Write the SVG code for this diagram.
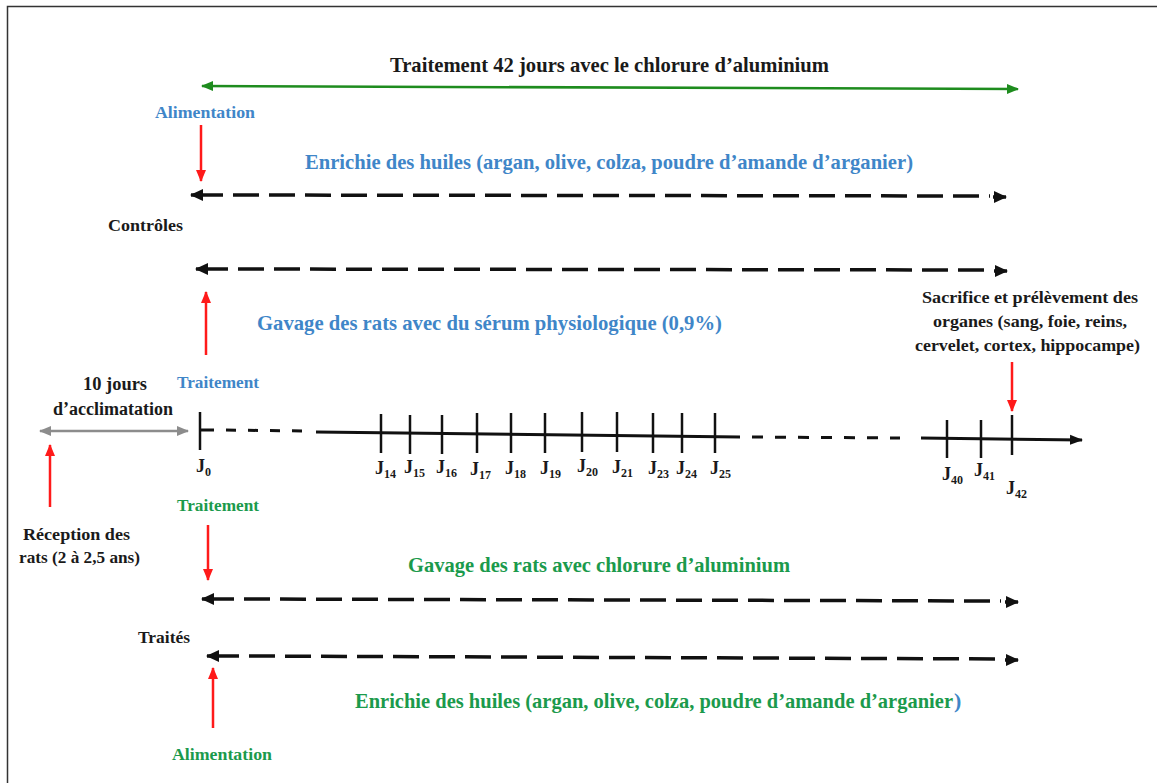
<svg xmlns="http://www.w3.org/2000/svg" width="1157" height="783" viewBox="0 0 1157 783">
<defs>
<style>
text{font-family:"Liberation Serif","Times New Roman",serif;font-weight:bold;}
.blk{fill:#1a1a1a;}
.blu{fill:#3f86c8;}
.grn{fill:#1b9a4c;}
.dash{stroke:#111;stroke-width:3.5;fill:none;stroke-dasharray:26 10;}
.solid{stroke:#111;stroke-width:3.5;fill:none;}
.red{stroke:#ff1a1a;stroke-width:2.5;fill:none;}
.tick{stroke:#111;stroke-width:2.5;}
.tl{stroke:#111;stroke-width:3;fill:none;}
.lbl{font-size:18px;}
.sub{font-size:12px;}
</style>
<marker id="ab" markerUnits="userSpaceOnUse" markerWidth="14" markerHeight="12" refX="12" refY="6" orient="auto-start-reverse"><path d="M0,0 L13,6 L0,12 Z" fill="#111"/></marker>
<marker id="ar" markerUnits="userSpaceOnUse" markerWidth="12" markerHeight="12" refX="11" refY="6" orient="auto"><path d="M0,1 L12,6 L0,11 Z" fill="#ff1a1a"/></marker>
<marker id="ag" markerUnits="userSpaceOnUse" markerWidth="12" markerHeight="12" refX="11" refY="6" orient="auto-start-reverse"><path d="M0,1 L12,6 L0,11 Z" fill="#1e8c1e"/></marker>
<marker id="agr" markerUnits="userSpaceOnUse" markerWidth="12" markerHeight="12" refX="11" refY="6" orient="auto-start-reverse"><path d="M0,1 L12,6 L0,11 Z" fill="#8c8c8c"/></marker>
<marker id="at" markerUnits="userSpaceOnUse" markerWidth="14" markerHeight="12" refX="12" refY="6" orient="auto"><path d="M0,1 L13,6 L0,11 Z" fill="#111"/></marker>
</defs>
<rect x="0" y="0" width="1157" height="783" fill="#fff"/>
<rect id="frame" x="7.5" y="6.5" width="1170" height="800" fill="none" stroke="#333" stroke-width="1.5"/>

<g id="connectors">
  <line x1="202" y1="86" x2="1018" y2="89" stroke="#1e8c1e" stroke-width="2.5" marker-start="url(#ag)" marker-end="url(#ag)"/>
  <line class="solid" x1="191" y1="195" x2="223" y2="195" marker-start="url(#ab)"/>
  <line class="dash" x1="233" y1="195" x2="990" y2="196"/>
  <line class="solid" x1="993" y1="197" x2="1006" y2="197" marker-end="url(#ab)"/>
  <line class="solid" x1="196" y1="269" x2="228" y2="269" marker-start="url(#ab)"/>
  <line class="dash" x1="238" y1="269" x2="990" y2="270"/>
  <line class="solid" x1="994" y1="271" x2="1007" y2="271" marker-end="url(#ab)"/>
  <line class="solid" x1="202" y1="599" x2="234" y2="599" marker-start="url(#ab)"/>
  <line class="dash" x1="244" y1="599" x2="1001" y2="601"/>
  <line class="solid" x1="1005" y1="602" x2="1018" y2="602" marker-end="url(#ab)"/>
  <line class="solid" x1="207" y1="656" x2="239" y2="656" marker-start="url(#ab)"/>
  <line class="dash" x1="249" y1="656" x2="1001" y2="659"/>
  <line class="solid" x1="1005" y1="660" x2="1018" y2="660" marker-end="url(#ab)"/>
  <line class="red" x1="201" y1="125" x2="201" y2="181" marker-end="url(#ar)"/>
  <line class="red" x1="206" y1="355" x2="206" y2="292" marker-end="url(#ar)"/>
  <line class="red" x1="50" y1="507" x2="50" y2="445" marker-end="url(#ar)"/>
  <line class="red" x1="208" y1="525" x2="208" y2="580" marker-end="url(#ar)"/>
  <line class="red" x1="213" y1="728" x2="213" y2="668" marker-end="url(#ar)"/>
  <line class="red" x1="1012" y1="362" x2="1012" y2="411" marker-end="url(#ar)"/>
  <line x1="40" y1="431" x2="188" y2="431" stroke="#8c8c8c" stroke-width="2.5" marker-start="url(#agr)" marker-end="url(#agr)"/>
</g>

<g id="timeline">
  <line class="tick" x1="200" y1="412" x2="200" y2="450"/>
  <line class="tl" x1="200" y1="430" x2="214" y2="430"/>
  <line class="tl" x1="226" y1="430" x2="304" y2="431" stroke-dasharray="10 12"/>
  <line class="tl" x1="316" y1="432" x2="740" y2="437"/>
  <line class="tl" x1="752" y1="437" x2="900" y2="438" stroke-dasharray="11 12"/>
  <line class="tl" x1="921" y1="438" x2="1082" y2="440" marker-end="url(#at)"/>
  <g>
    <line class="tick" x1="381" y1="414" x2="381" y2="453"/>
    <line class="tick" x1="410" y1="415" x2="410" y2="454"/>
    <line class="tick" x1="442" y1="415" x2="442" y2="454"/>
    <line class="tick" x1="477" y1="413" x2="477" y2="453"/>
    <line class="tick" x1="511" y1="413" x2="511" y2="453"/>
    <line class="tick" x1="545" y1="413" x2="545" y2="453"/>
    <line class="tick" x1="582" y1="412" x2="582" y2="452"/>
    <line class="tick" x1="617" y1="412" x2="617" y2="452"/>
    <line class="tick" x1="653" y1="413" x2="653" y2="453"/>
    <line class="tick" x1="682" y1="413" x2="682" y2="453"/>
    <line class="tick" x1="715" y1="413" x2="715" y2="453"/>
    <line class="tick" x1="947" y1="420" x2="947" y2="458"/>
    <line class="tick" x1="981" y1="420" x2="981" y2="458"/>
    <line class="tick" x1="1012" y1="415" x2="1012" y2="455"/>
  </g>
</g>

<g id="day-labels" class="blk">
  <text class="lbl" x="196" y="472">J<tspan class="sub" dy="4">0</tspan></text>
  <text class="lbl" x="375" y="474">J<tspan class="sub" dy="4">14</tspan></text>
  <text class="lbl" x="404" y="473">J<tspan class="sub" dy="4">15</tspan></text>
  <text class="lbl" x="436" y="473">J<tspan class="sub" dy="4">16</tspan></text>
  <text class="lbl" x="470" y="475">J<tspan class="sub" dy="4">17</tspan></text>
  <text class="lbl" x="505" y="474">J<tspan class="sub" dy="4">18</tspan></text>
  <text class="lbl" x="540" y="474">J<tspan class="sub" dy="4">19</tspan></text>
  <text class="lbl" x="577" y="472">J<tspan class="sub" dy="4">20</tspan></text>
  <text class="lbl" x="612" y="473">J<tspan class="sub" dy="4">21</tspan></text>
  <text class="lbl" x="648" y="474">J<tspan class="sub" dy="4">23</tspan></text>
  <text class="lbl" x="676" y="474">J<tspan class="sub" dy="4">24</tspan></text>
  <text class="lbl" x="710" y="474">J<tspan class="sub" dy="4">25</tspan></text>
  <text class="lbl" x="942" y="480">J<tspan class="sub" dy="4">40</tspan></text>
  <text class="lbl" x="974" y="476">J<tspan class="sub" dy="4">41</tspan></text>
  <text class="lbl" x="1006" y="494">J<tspan class="sub" dy="4">42</tspan></text>
</g>

<g id="title"><text class="blk" x="390" y="72" font-size="22" textLength="439" lengthAdjust="spacingAndGlyphs">Traitement 42 jours avec le chlorure d’aluminium</text></g>
<g id="alim-top"><text class="blu" x="155" y="118" font-size="17" textLength="100" lengthAdjust="spacingAndGlyphs">Alimentation</text></g>
<g id="enrichie-top"><text class="blu" x="305" y="169" font-size="22" textLength="608" lengthAdjust="spacingAndGlyphs">Enrichie des huiles (argan, olive, colza, poudre d’amande d’arganier)</text></g>
<g id="controles"><text class="blk" x="108" y="231" font-size="17" textLength="75" lengthAdjust="spacingAndGlyphs">Contrôles</text></g>
<g id="gavage-serum"><text class="blu" x="257" y="330" font-size="22" textLength="465" lengthAdjust="spacingAndGlyphs">Gavage des rats avec du sérum physiologique (0,9%)</text></g>
<g id="sacrifice" class="blk" font-size="17">
  <text x="922" y="303" textLength="216" lengthAdjust="spacingAndGlyphs">Sacrifice et prélèvement des</text>
  <text x="933" y="327" textLength="194" lengthAdjust="spacingAndGlyphs">organes (sang, foie, reins,</text>
  <text x="915" y="351" textLength="225" lengthAdjust="spacingAndGlyphs">cervelet, cortex, hippocampe)</text>
</g>
<g id="acclimatation" class="blk" font-size="18">
  <text x="83" y="390" textLength="64" lengthAdjust="spacingAndGlyphs">10 jours</text>
  <text x="53" y="415" textLength="120" lengthAdjust="spacingAndGlyphs">d’acclimatation</text>
</g>
<g id="traitement-blue"><text class="blu" x="177" y="388" font-size="17" textLength="82" lengthAdjust="spacingAndGlyphs">Traitement</text></g>
<g id="traitement-green"><text class="grn" x="177" y="511" font-size="17" textLength="82" lengthAdjust="spacingAndGlyphs">Traitement</text></g>
<g id="reception" class="blk" font-size="17">
  <text x="23" y="540" textLength="107" lengthAdjust="spacingAndGlyphs">Réception des</text>
  <text x="19" y="563" textLength="121" lengthAdjust="spacingAndGlyphs">rats (2 à 2,5 ans)</text>
</g>
<g id="gavage-chlorure"><text class="grn" x="408" y="572" font-size="22" textLength="382" lengthAdjust="spacingAndGlyphs">Gavage des rats avec chlorure d’aluminium</text></g>
<g id="traites"><text class="blk" x="138" y="643" font-size="17" textLength="52" lengthAdjust="spacingAndGlyphs">Traités</text></g>
<g id="enrichie-bottom">
  <text class="grn" x="355" y="708" font-size="22" textLength="598" lengthAdjust="spacingAndGlyphs">Enrichie des huiles (argan, olive, colza, poudre d’amande d’arganier</text>
  <text class="blu" x="954" y="708" font-size="22">)</text>
</g>
<g id="alim-bottom"><text class="grn" x="172" y="760" font-size="17" textLength="100" lengthAdjust="spacingAndGlyphs">Alimentation</text></g>
</svg>
